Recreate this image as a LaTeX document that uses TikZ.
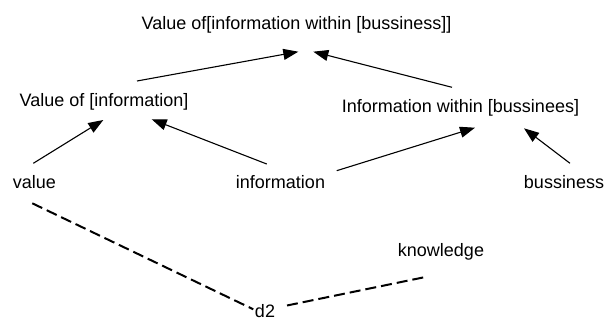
\documentclass[tikz,border=0pt]{standalone}
\usepackage{fontspec}
\setmainfont{Liberation Sans}
\usetikzlibrary{arrows.meta}
\begin{document}
\begin{tikzpicture}[x=1pt,y=-1pt,
  lbl/.style={anchor=base,inner sep=0pt,font=\fontsize{18}{21}\selectfont},
  link/.style={line width=1.1pt,-{Triangle[length=15pt,width=11pt]}},
  assoc/.style={line width=2pt,dash pattern=on 11pt off 5pt}]
\useasboundingbox (0,0) rectangle (605,320);
% labels
\node[lbl] (top)  at (296.5,30)  {Value of[information within [bussiness]]};
\node[lbl] (voi)  at (104,107)   {Value of [information]};
\node[lbl] (iwb)  at (460.5,113) {Information within [bussinees]};
\node[lbl] (val)  at (34.5,189)  {value};
\node[lbl] (inf)  at (280.5,189) {information};
\node[lbl] (bus)  at (564,189)   {bussiness};
\node[lbl] (know) at (441,256.7) {knowledge};
\node[lbl] (dtwo) at (265,317.5) {d2};
% composition arrows
\draw[link] ([xshift=33pt,yshift=26pt]voi.base) -- ([xshift=1.8pt,yshift=-21.7pt]top.base);
\draw[link] ([xshift=-8.5pt,yshift=25.7pt]iwb.base) -- ([xshift=16.8pt,yshift=-21.7pt]top.base);
\draw[link] ([xshift=-1.2pt,yshift=25.7pt]val.base) -- ([xshift=-0.7pt,yshift=-13pt]voi.base);
\draw[link] ([xshift=-13.8pt,yshift=25pt]inf.base) -- ([xshift=47.7pt,yshift=-12.3pt]voi.base);
\draw[link] ([xshift=56.2pt,yshift=18.3pt]inf.base) -- ([xshift=14.5pt,yshift=-14.7pt]iwb.base);
\draw[link] ([xshift=6pt,yshift=25.7pt]bus.base) -- ([xshift=63.5pt,yshift=-15.3pt]iwb.base);
% dashed associations
\draw[assoc] ([xshift=-2.2pt,yshift=-14.3pt]val.base) -- ([xshift=-11.7pt,yshift=8.2pt]dtwo.base);
\draw[assoc] ([xshift=22pt,yshift=12pt]dtwo.base) -- ([xshift=-17pt,yshift=-20.6pt]know.base);
\end{tikzpicture}
\end{document}
